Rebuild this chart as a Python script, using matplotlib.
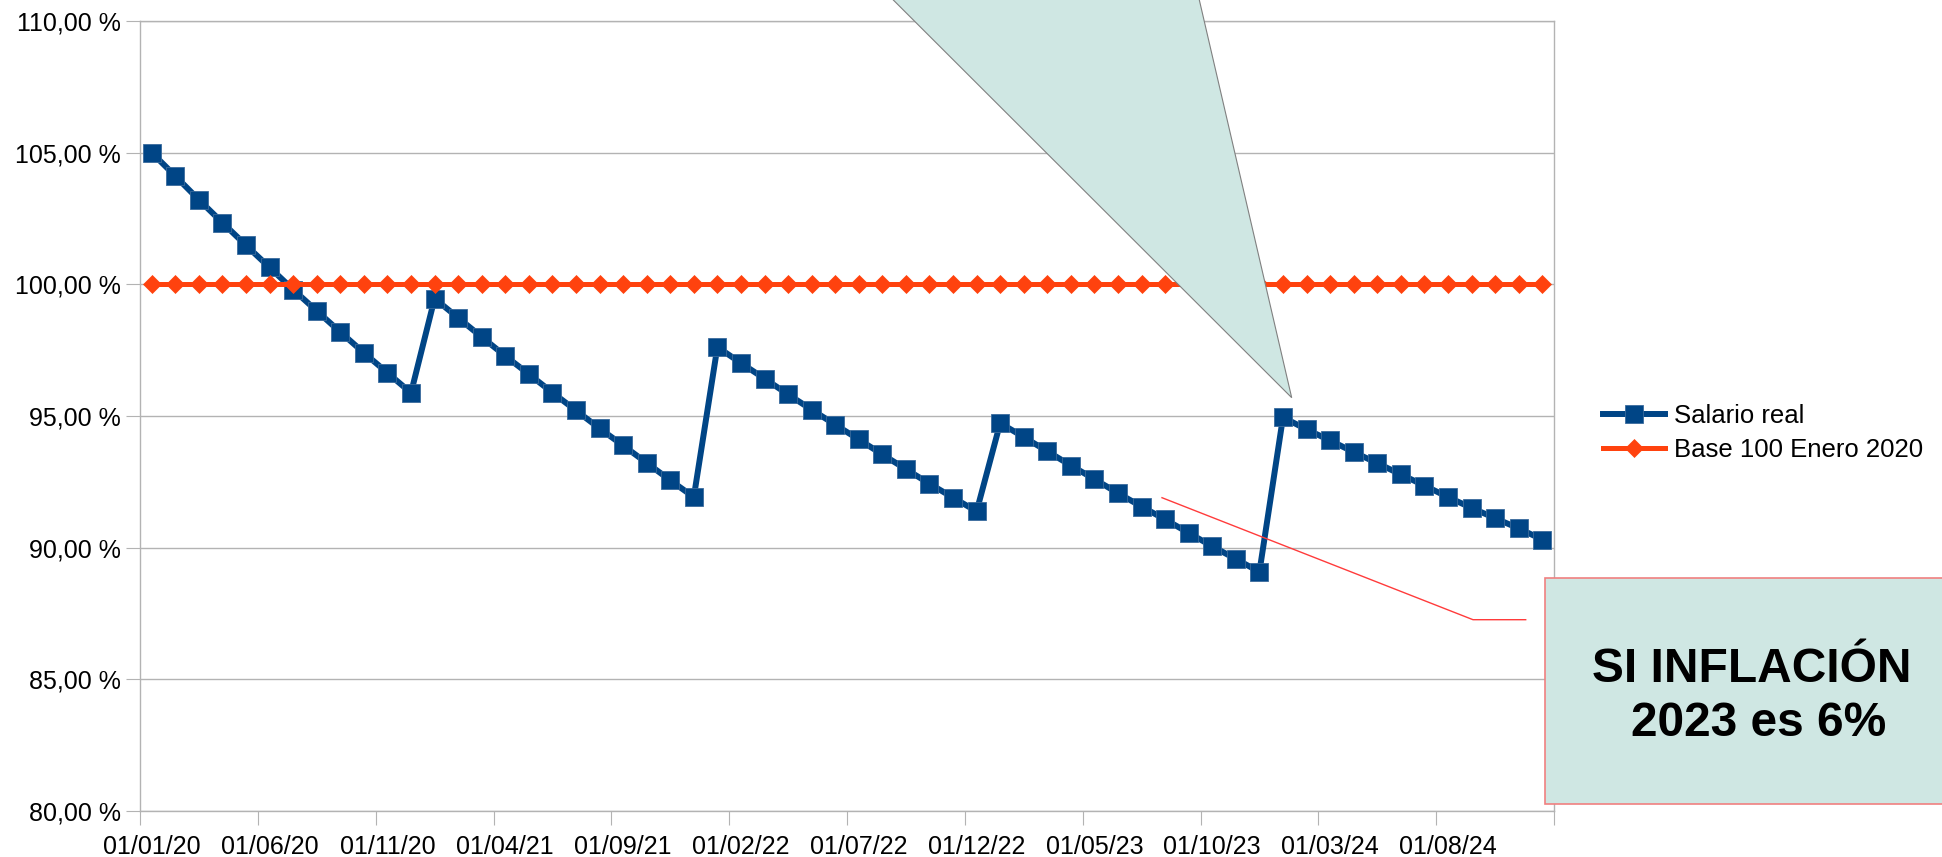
import numpy as np
import matplotlib.pyplot as plt
from matplotlib.patches import Polygon, Rectangle
from matplotlib.lines import Line2D
from matplotlib.transforms import Affine2D

plt.rcParams['font.family'] = ['Liberation Sans', 'DejaVu Sans']

# Serie mensual: enero 2020 (0) ... diciembre 2024 (59)
meses = np.arange(60)

salario_real = [
    105.00, 104.11, 103.21, 102.34, 101.48, 100.64, 99.80, 98.99, 98.19, 97.40, 96.64, 95.88,
    99.46, 98.73, 98.00, 97.28, 96.59, 95.89, 95.21, 94.53, 93.88, 93.22, 92.56, 91.92,
    97.62, 97.01, 96.42, 95.82, 95.24, 94.67, 94.11, 93.54, 92.98, 92.43, 91.90, 91.38,
    94.73, 94.20, 93.66, 93.12, 92.60, 92.07, 91.56, 91.07, 90.56, 90.05, 89.57, 89.08,
    94.95, 94.49, 94.07, 93.63, 93.21, 92.78, 92.36, 91.92, 91.51, 91.12, 90.73, 90.31,
]
base_100 = [100.0] * 60

etiquetas_x = ['01/01/20', '01/06/20', '01/11/20', '01/04/21', '01/09/21', '01/02/22',
               '01/07/22', '01/12/22', '01/05/23', '01/10/23', '01/03/24', '01/08/24']
valores_y = [80, 85, 90, 95, 100, 105, 110]
etiquetas_y = ['80,00 %', '85,00 %', '90,00 %', '95,00 %', '100,00 %', '105,00 %', '110,00 %']

W, H = 1942, 857
fig = plt.figure(figsize=(W / 100, H / 100), dpi=100)
ax = fig.add_axes([140 / W, 1 - 811 / H, (1554 - 140) / W, (811 - 21) / H])

gris = '#b3b3b3'
x = meses + 0.5
l1, = ax.plot(x, salario_real, color='#004586', lw=4.3, marker='s', ms=13.5,
              mec='#3a6b9c', mew=0.6, label='Salario real', zorder=3)
l2, = ax.plot(x, base_100, color='#ff420e', lw=3.6, marker='D', ms=9.5,
              mec='#ff420e', mew=0.5, label='Base 100 Enero 2020', zorder=4)

ax.set_xlim(0, 60)
ax.set_ylim(80, 110)
ax.set_yticks(valores_y, etiquetas_y)
ax.set_xticks(np.arange(0, 61, 5), [''] * 13)
ax.set_xticks(np.arange(0, 60, 5) + 0.5, etiquetas_x, minor=True)
ax.tick_params(axis='both', which='major', length=10, color=gris, labelsize=18, pad=4)
ax.tick_params(axis='x', which='minor', length=0, labelsize=18, pad=17)
ax.grid(axis='y', color=gris, lw=1)
ax.set_axisbelow(True)
for s in ax.spines.values():
    s.set_color(gris)
    s.set_linewidth(1)

fig.legend(handles=[l1, l2], loc='center left', bbox_to_anchor=(1603 / W, 1 - 433 / H),
           frameon=False, borderpad=0, borderaxespad=0, handlelength=2.4,
           handletextpad=0.35, labelspacing=0.4, fontsize=18.5)

# anotaciones en coordenadas de pixel
px = Affine2D().scale(1 / W, -1 / H).translate(0, 1) + fig.transFigure
teal = '#cfe7e3'
fig.add_artist(Polygon([(883.3, -10), (1197.0, -10), (1291.7, 397.7)], closed=True,
                       facecolor=teal, edgecolor='#808080', lw=0.8, transform=px, zorder=6))
fig.add_artist(Line2D([1162, 1473, 1525.7], [497.7, 619.7, 619.7], color='#ff3b3b',
                      lw=1, transform=px, zorder=6))
fig.add_artist(Rectangle((1545, 577.7), 420, 226.1, facecolor=teal, edgecolor='#f08080',
                         lw=1.2, transform=px, zorder=6))
fig.text(1751.7 / W, 1 - 681.7 / H, 'SI INFLACIÓN', ha='center', va='baseline',
         fontsize=34.5, fontweight='bold', zorder=7)
fig.text(1758.3 / W, 1 - 736 / H, '2023 es 6%', ha='center', va='baseline',
         fontsize=34.5, fontweight='bold', zorder=7)

fig.savefig('out.png', dpi=100)
